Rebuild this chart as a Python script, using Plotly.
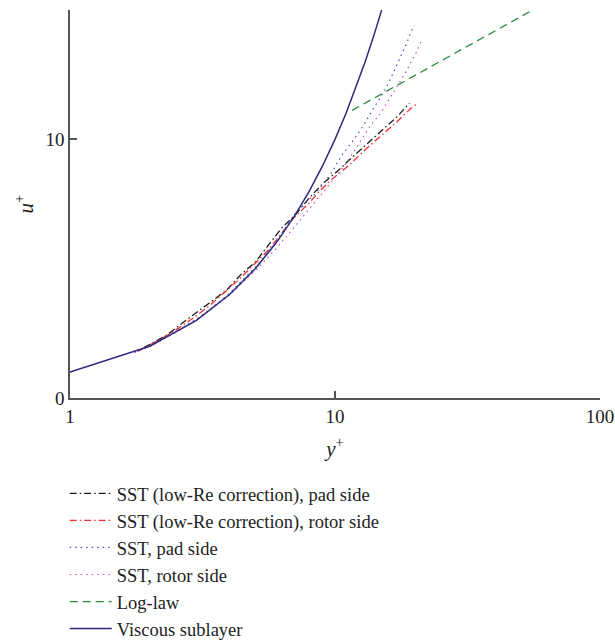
import plotly.graph_objects as go

# ---------------- data ----------------
visc_y = [1, 2, 3, 4, 5, 6, 7, 8, 9, 10, 11, 12, 13, 14, 15]
visc_u = [1, 2, 3, 4, 5, 6, 7, 8, 9, 10, 11, 12, 13, 14, 15]

log_y = [11.6, 56.9]
log_u = [11.12, 15.05]

lre_pad_y = [1.9, 2.32, 2.64, 3.09, 3.47, 3.90, 4.45, 5.0, 5.6, 6.3, 7.07, 8.05, 9.0, 10.3, 11.65, 12.8, 15.0, 17.1, 19.1]
lre_pad_u = [1.95, 2.43, 2.88, 3.40, 3.78, 4.17, 4.81, 5.25, 5.9, 6.58, 7.07, 7.77, 8.29, 8.80, 9.32, 9.70, 10.35, 10.86, 11.40]

lre_rot_y = [1.8, 2.22, 2.56, 2.96, 3.38, 4.38, 5.6, 6.95, 7.94, 8.8, 9.85, 11.4, 13.0, 15.0, 17.1, 19.3, 20.4]
lre_rot_u = [1.8, 2.30, 2.69, 3.14, 3.59, 4.62, 5.71, 6.94, 7.51, 8.03, 8.50, 9.03, 9.60, 10.15, 10.67, 11.19, 11.38]

sst_pad_y = [1.75, 2.06, 2.5, 3.0, 3.5, 4.0, 5.0, 6.0, 7.07, 8.54, 9.57, 10.6, 11.55, 12.8, 13.9, 15.3, 16.1, 16.9, 17.8, 18.6, 19.4, 19.9]
sst_pad_u = [1.78, 2.08, 2.55, 3.05, 3.55, 4.05, 5.05, 6.02, 7.13, 7.97, 8.61, 9.38, 9.87, 10.53, 11.16, 11.83, 12.28, 12.75, 13.22, 13.69, 14.17, 14.40]

sst_rot_y = [1.75, 2.06, 3.0, 4.0, 5.0, 6.0, 6.87, 7.38, 9.0, 11.1, 12.5, 13.7, 14.8, 16.2, 17.2, 18.3, 19.3, 20.4, 21.3]
sst_rot_u = [1.75, 2.05, 3.0, 3.98, 4.92, 5.78, 6.49, 6.87, 7.95, 9.12, 9.93, 10.57, 10.99, 11.63, 12.06, 12.51, 12.96, 13.41, 13.89]

x_ticks = [1, 10, 100]
x_tick_text = ["1", "10", "100"]
y_ticks = [0, 10]
y_tick_text = ["0", "10"]

FONT = "Liberation Serif"

fig = go.Figure()
fig.add_trace(go.Scatter(x=lre_pad_y, y=lre_pad_u, mode="lines",
                         name="SST (low-Re correction), pad side",
                         line=dict(color="#1a1a1a", width=1.3, dash="7px,3px,1.5px,3px")))
fig.add_trace(go.Scatter(x=lre_rot_y, y=lre_rot_u, mode="lines",
                         name="SST (low-Re correction), rotor side",
                         line=dict(color="#ec3030", width=1.3, dash="7px,3px,1.5px,3px")))
fig.add_trace(go.Scatter(x=sst_pad_y, y=sst_pad_u, mode="lines",
                         name="SST, pad side",
                         line=dict(color="#4052c8", width=1.2, dash="1.5px,4px")))
fig.add_trace(go.Scatter(x=sst_rot_y, y=sst_rot_u, mode="lines",
                         name="SST, rotor side",
                         line=dict(color="#c650c8", width=1.2, dash="1.5px,4px")))
fig.add_trace(go.Scatter(x=log_y, y=log_u, mode="lines",
                         name="Log-law",
                         line=dict(color="#2b8a3e", width=1.3, dash="8px,5px")))
fig.add_trace(go.Scatter(x=visc_y, y=visc_u, mode="lines",
                         name="Viscous sublayer",
                         line=dict(color="#2d2a7e", width=1.5)))

fig.update_layout(
    width=615, height=641,
    margin=dict(l=70, r=15, t=10, b=243, autoexpand=False),
    paper_bgcolor="white", plot_bgcolor="white",
    font=dict(family=FONT, size=19, color="#222"),
    showlegend=True,
    legend=dict(x=-0.01, y=-0.198, xanchor="left", yanchor="top",
                font=dict(family=FONT, size=18.5, color="#222"),
                itemwidth=42,
                bgcolor="rgba(0,0,0,0)", tracegroupgap=0),
)
fig.update_xaxes(type="log", range=[0, 2], tickvals=x_ticks, ticktext=x_tick_text,
                 showline=True, linecolor="#555", linewidth=1.5,
                 ticks="inside", ticklen=7, tickcolor="#555", tickwidth=1.5,
                 showgrid=False, zeroline=False, automargin=False,
                 title=dict(text="<i>y</i><sup>+</sup>", font=dict(family=FONT, size=21), standoff=16))
fig.update_yaxes(range=[0, 15], tickvals=y_ticks, ticktext=y_tick_text,
                 showline=True, linecolor="#555", linewidth=1.5,
                 ticks="inside", ticklen=7, tickcolor="#555", tickwidth=1.5,
                 showgrid=False, zeroline=False, automargin=False,
                 title=dict(text="<i>u</i><sup>+</sup>", font=dict(family=FONT, size=21), standoff=6))

fig.write_html("out.html")
